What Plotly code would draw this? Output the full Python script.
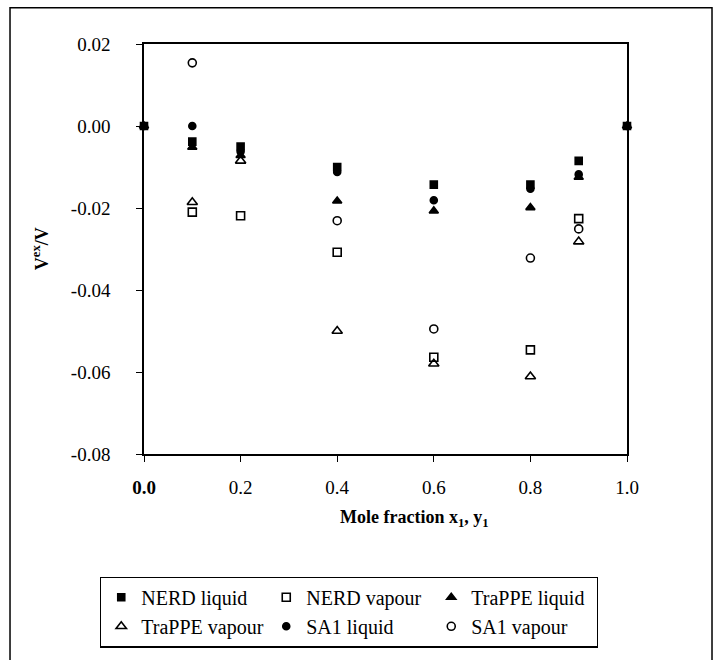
import plotly.graph_objects as go

# ---- data ----
x_liq = [0.0, 0.1, 0.2, 0.4, 0.6, 0.8, 0.9, 1.0]
nerd_liquid = [0.0, -0.0038, -0.0050, -0.0100, -0.0143, -0.0143, -0.0085, 0.0]
trappe_liquid = [0.0, -0.0052, -0.0072, -0.0183, -0.0207, -0.0199, -0.0125, 0.0]
sa1_liquid = [0.0, 0.0000, -0.0062, -0.0112, -0.0181, -0.0153, -0.0118, 0.0]

x_vap = [0.1, 0.2, 0.4, 0.6, 0.8, 0.9]
nerd_vapour = [-0.0210, -0.0219, -0.0308, -0.0564, -0.0546, -0.0226]
trappe_vapour = [-0.0186, -0.0085, -0.0500, -0.0580, -0.0611, -0.0282]

x_sa1_vap = [0.1, 0.4, 0.6, 0.8, 0.9]
sa1_vapour = [0.0154, -0.0231, -0.0495, -0.0322, -0.0251]

x_tickvals = [0.0, 0.2, 0.4, 0.6, 0.8, 1.0]
x_ticktext = ["<b>0.0</b>", "0.2", "0.4", "0.6", "0.8", "1.0"]
y_tickvals = [0.02, 0.0, -0.02, -0.04, -0.06, -0.08]
y_ticktext = ["0.02", "0.00", "-0.02", "-0.04", "-0.06", "-0.08"]

FONT = "Liberation Serif"
BLACK = "black"

def trace(name, x, y, symbol, size):
    return go.Scatter(
        x=x, y=y, mode="markers", name=name, cliponaxis=False,
        marker=dict(symbol=symbol, size=size, color=BLACK,
                    line=dict(color=BLACK, width=1.6)),
    )

fig = go.Figure()
fig.add_trace(trace("NERD liquid", x_liq, nerd_liquid, "square", 7))
fig.add_trace(trace("NERD vapour", x_vap, nerd_vapour, "square-open", 8))
fig.add_trace(trace("TraPPE liquid", x_liq, trappe_liquid, "triangle-up", 8))
fig.add_trace(trace("TraPPE vapour", x_vap, trappe_vapour, "triangle-up-open", 9))
fig.add_trace(trace("SA1 liquid", x_liq, sa1_liquid, "circle", 7))
fig.add_trace(trace("SA1 vapour", x_sa1_vap, sa1_vapour, "circle-open", 8))

axis_common = dict(
    showline=True, linecolor=BLACK, linewidth=1.5, mirror=True,
    ticks="outside", ticklen=6, tickcolor=BLACK, tickwidth=1.2,
    showgrid=False, zeroline=False,
    tickfont=dict(family=FONT, size=19, color=BLACK),
)

fig.update_layout(
    width=720, height=660,
    margin=dict(l=144, r=93, t=44, b=198),
    paper_bgcolor="white", plot_bgcolor="white",
    font=dict(family=FONT, color=BLACK),
    xaxis=dict(range=[0, 1], tickmode="array", tickvals=x_tickvals,
               ticktext=x_ticktext, ticklabelstandoff=9, **axis_common),
    yaxis=dict(range=[-0.08, 0.02], tickmode="array", tickvals=y_tickvals,
               ticktext=y_ticktext, ticklabelstandoff=22, **axis_common),
    showlegend=True,
    legend=dict(
        orientation="h", x=-0.091, y=-0.299, xanchor="left", yanchor="top",
        bordercolor=BLACK, borderwidth=1.2, bgcolor="white",
        font=dict(family=FONT, size=20, color=BLACK),
        entrywidth=120, entrywidthmode="pixels", itemwidth=30,
        traceorder="normal",
    ),
    annotations=[
        dict(text="<b>Mole fraction x<sub>1</sub>, y<sub>1</sub></b>",
             xref="paper", yref="paper", x=0.56, y=-0.158,
             xanchor="center", yanchor="middle", showarrow=False,
             font=dict(family=FONT, size=18, color=BLACK)),
        dict(text="<b>V<sup>ex</sup>/V</b>",
             xref="paper", yref="paper", x=-0.215, y=0.5,
             xanchor="center", yanchor="middle", showarrow=False, textangle=-90,
             font=dict(family=FONT, size=18, color=BLACK)),
    ],
    shapes=[
        dict(type="rect", xref="paper", yref="paper",
             x0=-0.2774, x1=1.176, y0=-0.55, y1=1.0885,
             line=dict(color=BLACK, width=1.5), fillcolor="rgba(0,0,0,0)",
             layer="below"),
    ],
)

fig.write_html("out.html")
